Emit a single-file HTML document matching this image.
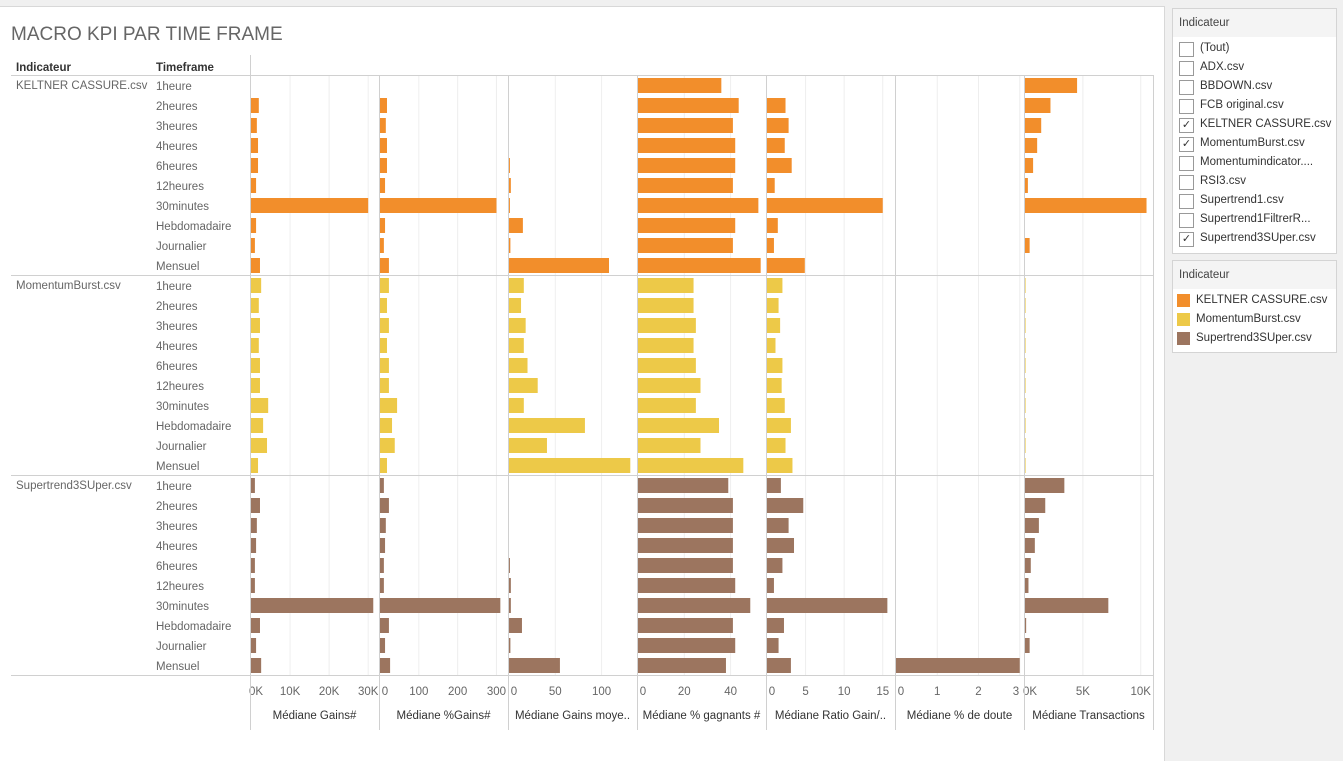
<!DOCTYPE html>
<html><head><meta charset="utf-8"><style>
body{margin:0;width:1343px;height:760px;background:#f0f0f0;font-family:"Liberation Sans",sans-serif;overflow:hidden;position:relative}
#main{position:absolute;left:0;top:6px;width:1164px;height:754px;background:#fff;border-top:1px solid #d8d8d8;border-right:1px solid #d8d8d8}
.box{position:absolute;left:1172px;width:163px;background:#fff;border:1px solid #d4d4d4;font-size:11.5px;color:#333}
.hd{background:#f4f4f4;height:28px;line-height:28px;padding-left:6px;color:#444}
.it{height:19px;line-height:19px;position:relative;padding-left:27px;white-space:nowrap;overflow:hidden}
.cb{position:absolute;left:6px;top:3px;width:13px;height:13px;border:1px solid #999;background:#fff;font-size:11px;line-height:13px;text-align:center}
.sw{position:absolute;left:4px;top:3px;width:13px;height:13px}
</style></head><body>
<div id="main"></div>
<svg id="chart" width="1165" height="760" style="position:absolute;left:0;top:0"></svg>
<div class="box" style="top:8px;height:244px">
<div class="hd">Indicateur</div>
<div style="padding-top:2px">
<div class="it"><span class="cb"></span>(Tout)</div>
<div class="it"><span class="cb"></span>ADX.csv</div>
<div class="it"><span class="cb"></span>BBDOWN.csv</div>
<div class="it"><span class="cb"></span>FCB original.csv</div>
<div class="it"><span class="cb">✓</span>KELTNER CASSURE.csv</div>
<div class="it"><span class="cb">✓</span>MomentumBurst.csv</div>
<div class="it"><span class="cb"></span>Momentumindicator....</div>
<div class="it"><span class="cb"></span>RSI3.csv</div>
<div class="it"><span class="cb"></span>Supertrend1.csv</div>
<div class="it"><span class="cb"></span>Supertrend1FiltrerR...</div>
<div class="it"><span class="cb">✓</span>Supertrend3SUper.csv</div>
</div></div>
<div class="box" style="top:260px;height:91px">
<div class="hd">Indicateur</div>
<div style="padding-top:2px">
<div class="it" style="padding-left:23px"><span class="sw" style="background:#f28e2b"></span>KELTNER CASSURE.csv</div>
<div class="it" style="padding-left:23px"><span class="sw" style="background:#edc948"></span>MomentumBurst.csv</div>
<div class="it" style="padding-left:23px"><span class="sw" style="background:#9c755f"></span>Supertrend3SUper.csv</div>
</div></div>
<script>
const groups=["KELTNER CASSURE.csv","MomentumBurst.csv","Supertrend3SUper.csv"];
const colors=["#f28e2b","#edc948","#9c755f"];
const timeframes=["1heure","2heures","3heures","4heures","6heures","12heures","30minutes","Hebdomadaire","Journalier","Mensuel"];
const measures=["Médiane Gains#","Médiane %Gains#","Médiane Gains moye..","Médiane % gagnants #","Médiane Ratio Gain/..","Médiane % de doute","Médiane Transactions"];
const axisMax=[32,322,135,54,16.2,3.03,10.8];
const ticks=[[0,10,20,30],[0,100,200,300],[0,50,100],[0,20,40],[0,5,10,15],[0,1,2,3],[0,5,10]];
const tickLabels=[["0K","10K","20K","30K"],["0","100","200","300"],["0","50","100"],["0","20","40"],["0","5","10","15"],["0","1","2","3"],["0K","5K","10K"]];
const gains=[[0,2,1.5,1.8,1.8,1.3,30,1.3,1,2.3],[2.6,2,2.3,2,2.3,2.3,4.4,3.1,4.1,1.8],[1,2.3,1.5,1.3,1,1,31.3,2.3,1.3,2.6]];
const pctGains=[[0,18,15,18,18,13,300,13,10,23],[23,18,23,18,23,23,44,31,38,18],[10,23,15,13,10,10,310,23,13,26]];
const gainsMoy=[[0,0,0,0,1,2,1,15,1.5,108],[16,13,18,16,20,31,16,82,41,131],[0,0,0,0,1,2,2,14,1.5,55]];
const pctGagnants=[[36,43.5,41,42,42,41,52,42,41,53],[24,24,25,24,25,27,25,35,27,45.5],[39,41,41,41,41,42,48.5,41,42,38]];
const ratio=[[0,2.4,2.8,2.3,3.2,1,15,1.4,0.9,4.9],[2,1.5,1.7,1.1,2,1.9,2.3,3.1,2.4,3.3],[1.8,4.7,2.8,3.5,2,0.9,15.6,2.2,1.5,3.1]];
const doute=[[0,0,0,0,0,0,0,0,0,0],[0,0,0,0,0,0,0,0,0,0],[0,0,0,0,0,0,0,0,0,3]];
const transactions=[[4.5,2.2,1.4,1.05,0.7,0.25,10.5,0,0.4,0],[0.05,0.05,0.05,0.05,0.05,0.05,0.05,0.05,0.05,0.05],[3.4,1.75,1.2,0.85,0.5,0.3,7.2,0.1,0.4,0]];
const series=[gains,pctGains,gainsMoy,pctGagnants,ratio,doute,transactions];

const svg=document.getElementById('chart');const NS="http://www.w3.org/2000/svg";
function el(t,a,txt){const e=document.createElementNS(NS,t);for(const k in a)e.setAttribute(k,a[k]);if(txt!==undefined)e.textContent=txt;svg.appendChild(e);return e;}
const X0=250,PW=129,Y0=75,RH=20;
function xs(m,v){return X0+m*PW+1+v/axisMax[m]*(PW-4);}
function yr(g,i){return Y0+(g*10+i)*RH;}
let t=el('text',{x:11,y:40,'font-size':19,fill:'#666'},'MACRO KPI PAR TIME FRAME');


t=el('text',{x:16,y:71,'font-size':11.5,fill:'#333','font-weight':'bold'},'Indicateur');


t=el('text',{x:156,y:71,'font-size':11.5,fill:'#333','font-weight':'bold'},'Timeframe');


for(let m=0;m<7;m++){
  ticks[m].forEach((v,k)=>{ if(k>0){const gl=el('line',{x1:xs(m,v),x2:xs(m,v),y1:Y0,y2:675,stroke:'#eeeeee'});
    
    }
    const lx=Math.max(xs(m,v),X0+m*PW+6);const tl=el('text',{x:Math.min(lx,X0+(m+1)*PW-8),y:695,'font-size':11.5,fill:'#666','text-anchor':'middle'},tickLabels[m][k]);
    
    });
  const mt=el('text',{x:X0+m*PW+PW/2,y:719,'font-size':11.5,fill:'#333','text-anchor':'middle'},measures[m]);
  
  
}
for(let m=0;m<=7;m++){const vl=el('line',{x1:X0+m*PW+0.5,x2:X0+m*PW+0.5,y1:m==0?55:Y0,y2:730,stroke:'#d0d0d0'});
  
  }
[75,275,475,675].forEach(y=>{const hl=el('line',{x1:11,x2:1153,y1:y+0.5,y2:y+0.5,stroke:'#d0d0d0'});
  
  });
groups.forEach((g,gi)=>{
  const gt=el('text',{x:16,y:yr(gi,0)+14,'font-size':11.5,fill:'#666'},g);
  
  
  timeframes.forEach((tf,i)=>{
    const tt=el('text',{x:156,y:yr(gi,i)+15,'font-size':11.5,fill:'#666'},tf);
    
    
    series.forEach((s,m)=>{const v=s[gi][i];const w=xs(m,v)-xs(m,0);
      if(w>0.3){const b=el('rect',{x:xs(m,0),y:yr(gi,i)+3,width:w,height:15,fill:colors[gi]});
      
      }});
  });
});
</script>
</body></html>
